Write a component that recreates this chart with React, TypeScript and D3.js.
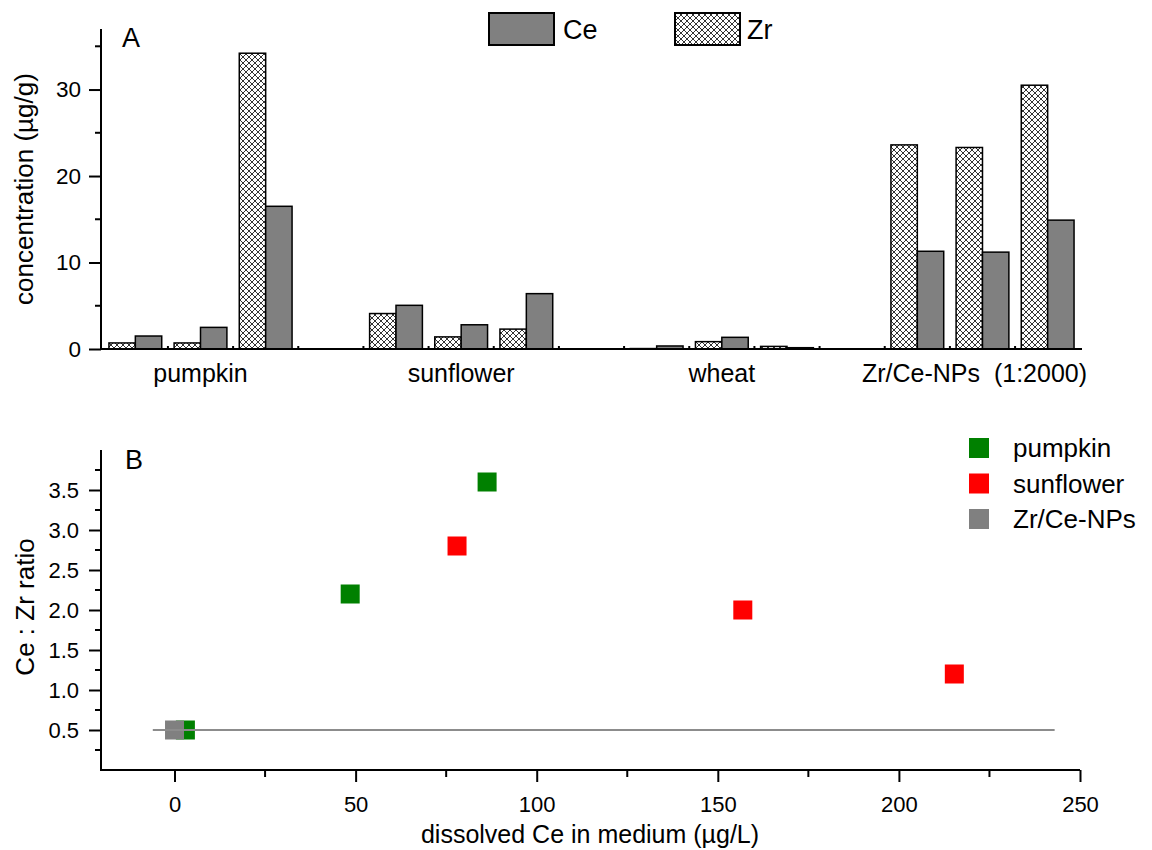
import React, { useRef, useEffect } from 'react';
import * as d3 from 'd3';

// panel A
const groups = ['pumpkin', 'sunflower', 'wheat', 'Zr/Ce-NPs  (1:2000)'];
const zrValues = [0.7, 0.7, 34.2, 4.1, 1.4, 2.3, 0.05, 0.85, 0.3, 23.6, 23.3, 30.5];
const ceValues = [1.5, 2.5, 16.5, 5.05, 2.8, 6.4, 0.35, 1.35, 0.15, 11.3, 11.2, 14.9];
const concTicks = [0, 10, 20, 30];

// panel B
const pumpkinX = [3, 48.5, 86.3];
const pumpkinY = [0.5, 2.2, 3.6];
const sunflowerX = [78, 156.9, 215.3];
const sunflowerY = [2.8, 2.0, 1.2];
const npX = [0];
const npY = [0.5];
const refLineX = [-6, 243];
const refLineY = [0.5, 0.5];
const ratioTicks = [0.5, 1.0, 1.5, 2.0, 2.5, 3.0, 3.5];
const ceTicks = [0, 50, 100, 150, 200, 250];

const FONT = '"Liberation Sans", Arial, sans-serif';

const App = () => {
  const ref = useRef<SVGSVGElement>(null);

  useEffect(() => {
    const svg = d3.select(ref.current);
    svg.selectAll('*').remove();
    svg.attr('font-family', FONT);

    const defs = svg.append('defs');
    const pat = defs
      .append('pattern')
      .attr('id', 'xhatch')
      .attr('patternUnits', 'userSpaceOnUse')
      .attr('width', 6)
      .attr('height', 6);
    pat.append('rect').attr('width', 6).attr('height', 6).attr('fill', 'white');
    pat
      .append('path')
      .attr('d', 'M0,0L6,6M6,0L0,6M-1,5L1,7M5,-1L7,1M-1,1L1,-1M5,7L7,5')
      .attr('stroke', 'black')
      .attr('stroke-width', 0.8);

    // ---------- panel A ----------
    const slots = d3.range(15);
    const x = d3.scaleBand<number>().domain(slots).range([101, 1082]).paddingInner(0.19).paddingOuter(0.122);
    const y = d3.scaleLinear().domain([0, 37]).range([349, 29]);

    // slot index of each bar pair: 3 per group, one empty slot between groups
    const slotOf = (i: number) => Math.floor(i / 3) * 4 + (i % 3);
    const half = x.bandwidth() / 2;

    const a = svg.append('g');
    a.selectAll('.zr')
      .data(zrValues)
      .join('rect')
      .attr('x', (d, i) => x(slotOf(i))!)
      .attr('y', (d) => y(d))
      .attr('width', half)
      .attr('height', (d) => y(0) - y(d))
      .attr('fill', 'url(#xhatch)')
      .attr('stroke', 'black')
      .attr('stroke-width', 1.5);
    a.selectAll('.ce')
      .data(ceValues)
      .join('rect')
      .attr('x', (d, i) => x(slotOf(i))! + half)
      .attr('y', (d) => y(d))
      .attr('width', half)
      .attr('height', (d) => y(0) - y(d))
      .attr('fill', '#808080')
      .attr('stroke', 'black')
      .attr('stroke-width', 1.5);

    // y axis
    const yAxis = a.append('g').attr('transform', 'translate(101,0)');
    yAxis
      .call(d3.axisLeft(y).tickValues(concTicks).tickSize(12).tickPadding(8).tickFormat(d3.format('d')))
      .selectAll('text')
      .attr('font-size', 22.5)
      .attr('font-family', FONT)
      .attr('fill', 'black');
    yAxis.selectAll('line').attr('stroke-width', 2);
    yAxis.select('.domain').remove();
    yAxis
      .selectAll('.minor')
      .data([5, 15, 25, 35])
      .join('line')
      .attr('x1', -6)
      .attr('x2', 0)
      .attr('y1', (d) => y(d))
      .attr('y2', (d) => y(d))
      .attr('stroke', 'black')
      .attr('stroke-width', 2);
    a.append('line').attr('x1', 101).attr('x2', 101).attr('y1', 29).attr('y2', 350).attr('stroke', 'black').attr('stroke-width', 2);
    a.append('line').attr('x1', 100).attr('x2', 1082).attr('y1', 349).attr('y2', 349).attr('stroke', 'black').attr('stroke-width', 2);

    // small ticks between slots
    const step = x.step();
    a.selectAll('.st')
      .data(slots.slice(1))
      .join('line')
      .attr('x1', (d) => x(d)! - (step - x.bandwidth()) / 2)
      .attr('x2', (d) => x(d)! - (step - x.bandwidth()) / 2)
      .attr('y1', 346)
      .attr('y2', 349)
      .attr('stroke', 'black')
      .attr('stroke-width', 2);

    a.selectAll('.grp')
      .data(groups)
      .join('text')
      .attr('x', (d, i) => x(i * 4 + 1)! + x.bandwidth() / 2 - (i === 3 ? 8 : 0))
      .attr('y', 382)
      .attr('text-anchor', 'middle')
      .attr('font-size', 25)
      .attr('xml:space', 'preserve')
      .style('white-space', 'pre')
      .text((d) => d);

    a.append('text')
      .attr('transform', 'translate(33,189) rotate(-90)')
      .attr('text-anchor', 'middle')
      .attr('font-size', 26)
      .text('concentration (µg/g)');
    a.append('text').attr('x', 122).attr('y', 47).attr('font-size', 27).text('A');

    // legend A
    a.append('rect').attr('x', 489).attr('y', 13).attr('width', 65).attr('height', 32).attr('fill', '#808080').attr('stroke', 'black').attr('stroke-width', 2);
    a.append('text').attr('x', 563).attr('y', 39).attr('font-size', 27).text('Ce');
    a.append('rect').attr('x', 675).attr('y', 13).attr('width', 65).attr('height', 32).attr('fill', 'url(#xhatch)').attr('stroke', 'black').attr('stroke-width', 2);
    a.append('text').attr('x', 747).attr('y', 39).attr('font-size', 27).text('Zr');

    // ---------- panel B ----------
    const bx = d3.scaleLinear().domain([-20.3, 250]).range([101, 1080]);
    const by = d3.scaleLinear().domain([0, 4]).range([770, 450]);
    const b = svg.append('g');
    const sq = 19;

    const drawPoints = (xs: number[], ys: number[], color: string) => {
      b.append('g')
        .selectAll('rect')
        .data(xs)
        .join('rect')
        .attr('x', (d) => bx(d) - sq / 2)
        .attr('y', (d, i) => by(ys[i]) - sq / 2)
        .attr('width', sq)
        .attr('height', sq)
        .attr('fill', color);
    };
    drawPoints(pumpkinX, pumpkinY, '#008000');
    drawPoints(sunflowerX, sunflowerY, '#ff0000');
    drawPoints(npX, npY, '#808080');

    const line = d3
      .line<number>()
      .x((d) => bx(d))
      .y((d, i) => by(refLineY[i]));
    b.append('path').datum(refLineX).attr('d', line).attr('fill', 'none').attr('stroke', '#8c8c8c').attr('stroke-width', 2.2);

    const byAxis = b.append('g').attr('transform', 'translate(101,0)');
    byAxis
      .call(d3.axisLeft(by).tickValues(ratioTicks).tickSize(12).tickPadding(10).tickFormat(d3.format('.1f')))
      .selectAll('text')
      .attr('font-size', 22)
      .attr('font-family', FONT)
      .attr('fill', 'black');
    byAxis.selectAll('line').attr('stroke-width', 2);
    byAxis.select('.domain').remove();
    byAxis
      .selectAll('.minor')
      .data([0.25, 0.75, 1.25, 1.75, 2.25, 2.75, 3.25, 3.75])
      .join('line')
      .attr('x1', -6)
      .attr('x2', 0)
      .attr('y1', (d) => by(d))
      .attr('y2', (d) => by(d))
      .attr('stroke', 'black')
      .attr('stroke-width', 2);

    const bxAxis = b.append('g').attr('transform', 'translate(0,770)');
    bxAxis
      .call(d3.axisBottom(bx).tickValues(ceTicks).tickSize(12).tickPadding(14).tickFormat(d3.format('d')))
      .selectAll('text')
      .attr('font-size', 22)
      .attr('font-family', FONT)
      .attr('fill', 'black');
    bxAxis.selectAll('line').attr('stroke-width', 2);
    bxAxis.select('.domain').remove();
    bxAxis
      .selectAll('.minor')
      .data([25, 75, 125, 175, 225])
      .join('line')
      .attr('x1', (d) => bx(d))
      .attr('x2', (d) => bx(d))
      .attr('y1', 0)
      .attr('y2', 7)
      .attr('stroke', 'black')
      .attr('stroke-width', 2);

    b.append('line').attr('x1', 101).attr('x2', 101).attr('y1', 450).attr('y2', 771).attr('stroke', 'black').attr('stroke-width', 2);
    b.append('line').attr('x1', 100).attr('x2', 1080).attr('y1', 770).attr('y2', 770).attr('stroke', 'black').attr('stroke-width', 2);

    b.append('text')
      .attr('transform', 'translate(34,607) rotate(-90)')
      .attr('text-anchor', 'middle')
      .attr('font-size', 26)
      .text('Ce : Zr ratio');
    b.append('text')
      .attr('x', 590)
      .attr('y', 843)
      .attr('text-anchor', 'middle')
      .attr('font-size', 25)
      .text('dissolved Ce in medium (µg/L)');
    b.append('text').attr('x', 125).attr('y', 469).attr('font-size', 27).text('B');

    // legend B
    const legB = [
      { name: 'pumpkin', color: '#008000' },
      { name: 'sunflower', color: '#ff0000' },
      { name: 'Zr/Ce-NPs', color: '#808080' },
    ];
    const lg = b.append('g').selectAll('g').data(legB).join('g').attr('transform', (d, i) => `translate(969,${448 + i * 35.5})`);
    lg.append('rect').attr('x', 0).attr('y', -10).attr('width', 20).attr('height', 20).attr('fill', (d) => d.color);
    lg.append('text').attr('x', 44).attr('y', 9).attr('font-size', 26).text((d) => d.name);
  }, []);

  return (
    <svg
      ref={ref}
      width={1152}
      height={850}
      style={{ position: 'absolute', left: 0, top: 0, background: 'white' }}
    ></svg>
  );
};

export default App;
